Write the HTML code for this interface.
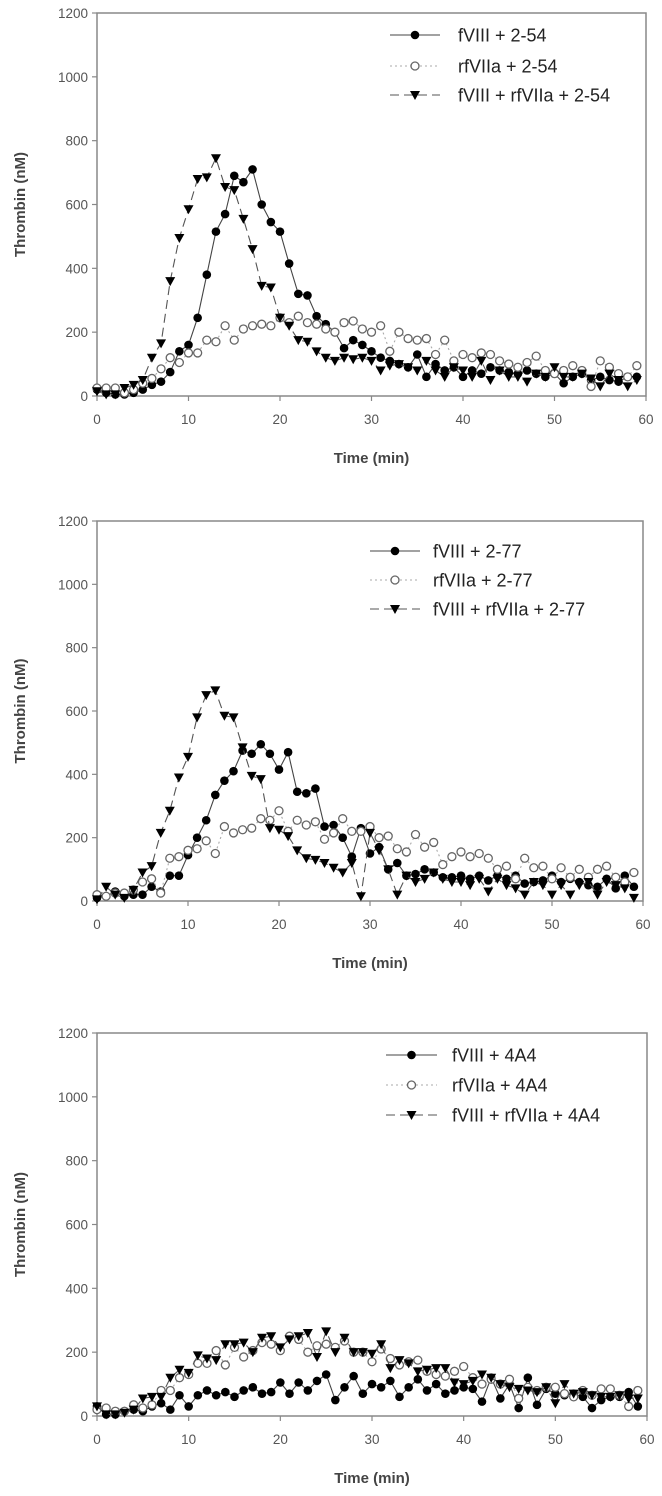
<!DOCTYPE html>
<html><head><meta charset="utf-8"><style>
html,body{margin:0;padding:0;background:#fff;}
svg{display:block;}
text{font-family:"Liberation Sans",Arial,sans-serif;}
</style></head><body>
<svg id="chart" width="662" height="1496" viewBox="0 0 662 1496" xmlns="http://www.w3.org/2000/svg"></svg>
<script>
const xTicks=[0,10,20,30,40,50,60];
const yTicks=[0,200,400,600,800,1000,1200];
const times=Array.from({length:60},(_,i)=>i);
const p1Labels=["fVIII + 2-54","rfVIIa + 2-54","fVIII + rfVIIa + 2-54"];
const p1FVIII=[20,10,5,5,10,20,35,45,75,140,160,245,380,515,570,690,670,710,600,545,515,415,320,315,250,225,200,150,175,160,140,120,110,100,90,130,60,100,80,90,60,80,70,90,80,75,70,80,70,60,70,40,60,70,50,60,50,45,60,60];
const p1RF=[25,25,25,10,20,40,55,85,120,105,135,135,175,170,220,175,210,220,225,220,245,230,250,230,225,210,200,230,235,210,200,220,140,200,180,175,180,130,175,110,130,120,135,130,110,100,90,105,125,80,70,80,95,80,30,110,90,70,60,95];
const p1Comb=[15,5,5,25,35,50,120,165,360,495,585,680,685,745,655,645,555,460,345,340,245,220,175,170,140,120,110,120,115,120,110,80,95,100,90,80,110,80,60,90,80,60,110,50,80,60,60,45,70,60,90,60,60,70,55,30,70,50,30,50];
const p2Labels=["fVIII + 2-77","rfVIIa + 2-77","fVIII + rfVIIa + 2-77"];
const p2FVIII=[10,15,30,15,20,20,45,30,80,80,145,200,255,335,380,410,475,465,495,465,415,470,345,340,355,235,240,200,140,230,150,170,100,120,80,85,100,90,75,75,80,70,80,65,80,70,80,55,60,65,80,60,70,60,50,45,70,40,80,45];
const p2RF=[20,15,25,25,35,60,70,25,135,140,160,165,190,150,235,215,225,230,260,255,285,220,255,240,250,195,215,260,220,220,235,200,205,165,155,210,170,185,115,140,155,140,150,135,100,110,70,135,105,110,70,105,75,100,75,100,110,75,60,90];
const p2Comb=[5,45,20,10,35,90,110,215,285,390,455,580,650,665,585,580,485,395,385,230,225,205,160,135,130,120,105,90,120,15,215,160,100,20,80,60,70,90,70,60,60,50,70,30,70,50,40,20,60,50,20,50,20,50,60,20,60,50,40,10];
const p3Labels=["fVIII + 4A4","rfVIIa + 4A4","fVIII + rfVIIa + 4A4"];
const p3FVIII=[30,5,5,15,20,15,30,40,20,65,30,65,80,65,75,60,80,90,70,75,105,70,105,80,110,130,50,90,125,70,100,90,110,60,90,115,80,100,70,80,90,85,45,120,55,100,25,120,35,85,70,65,70,60,25,50,60,60,75,30];
const p3RF=[20,25,15,15,35,25,35,80,80,120,130,165,165,205,160,215,185,205,230,225,205,250,240,200,220,225,215,235,200,200,170,210,180,160,170,175,140,130,125,140,155,120,100,115,100,115,55,90,80,90,90,70,60,80,65,85,85,65,30,80];
const p3Comb=[30,5,5,10,20,55,60,60,120,145,135,190,180,175,225,225,230,200,245,250,215,240,250,260,185,265,200,245,200,200,195,225,150,175,165,140,145,150,150,105,100,110,130,120,100,90,85,80,75,90,40,100,70,75,65,60,60,65,55,55];

const NS="http://www.w3.org/2000/svg";
const svg=document.getElementById('chart');
function mk(tag,attrs,parent){const e=document.createElementNS(NS,tag);for(const k in attrs)e.setAttribute(k,attrs[k]);(parent||svg).appendChild(e);return e;}

const panels=[
 {top:13,bot:396,left:97,right:646,leg:{x1:390,x2:440,tx:458,ys:[35,66,95]},labels:p1Labels,series:[p1FVIII,p1RF,p1Comb],name:'panel-2-54'},
 {top:521,bot:901,left:97,right:643,leg:{x1:370,x2:420,tx:433,ys:[551,580,609]},labels:p2Labels,series:[p2FVIII,p2RF,p2Comb],name:'panel-2-77'},
 {top:1033,bot:1416,left:97,right:647,leg:{x1:386,x2:437,tx:452,ys:[1055,1085,1115]},labels:p3Labels,series:[p3FVIII,p3RF,p3Comb],name:'panel-4a4'}
];
const styles=[
 {stroke:'#444',dash:'',marker:'dot'},
 {stroke:'#aaa',dash:'2,3',marker:'circle'},
 {stroke:'#555',dash:'9,5',marker:'tri'}
];
function marker(kind,x,y,g){
 let e;
 if(kind==='dot'){e=mk('circle',{cx:x,cy:y,r:4.3,fill:'#000'},g);}
 else if(kind==='circle'){e=mk('circle',{cx:x,cy:y,r:4,fill:'#fff',stroke:'#666','stroke-width':1.3},g);}
 else {e=mk('polygon',{points:`${x-5},${y-4} ${x+5},${y-4} ${x},${y+5}`,fill:'#000'},g);}
 return e;
}
panels.forEach((p,pi)=>{
 const g=mk('g',{});
 
 
 const xs=v=>p.left+(v/60)*(p.right-p.left);
 const ys=v=>p.bot-(v/1200)*(p.bot-p.top);
 const frame=mk('rect',{x:p.left,y:p.top,width:p.right-p.left,height:p.bot-p.top,fill:'none',stroke:'#888','stroke-width':1.5},g);
 
 
 yTicks.forEach(t=>{
  mk('line',{x1:p.left-5,x2:p.left,y1:ys(t),y2:ys(t),stroke:'#888','stroke-width':1.2},g);
  const tx=mk('text',{x:p.left-9,y:ys(t)+5,'text-anchor':'end','font-size':13.5,fill:'#555'},g);
  tx.textContent=t;
  
  
 });
 xTicks.forEach(t=>{
  mk('line',{x1:xs(t),x2:xs(t),y1:p.bot,y2:p.bot+5,stroke:'#888','stroke-width':1.2},g);
  const tx=mk('text',{x:xs(t),y:p.bot+28,'text-anchor':'middle','font-size':13.5,fill:'#555'},g);
  tx.textContent=t;
  
  
 });
 const yt=mk('text',{x:0,y:0,transform:`translate(25,${(p.top+p.bot)/2}) rotate(-90)`,'text-anchor':'middle','font-size':15,'font-weight':'bold',fill:'#444'},g);
 yt.textContent='Thrombin (nM)';
 
 
 const xt=mk('text',{x:(p.left+p.right)/2,y:p.bot+67,'text-anchor':'middle','font-size':15,'font-weight':'bold',fill:'#444'},g);
 xt.textContent='Time (min)';
 
 
 p.series.forEach((vals,si)=>{
  const st=styles[si];
  const sg=mk('g',{},g);
  
  
  const pts=vals.map((v,i)=>xs(times[i]).toFixed(1)+','+ys(v).toFixed(1)).join(' ');
  const pl=mk('polyline',{points:pts,fill:'none',stroke:st.stroke,'stroke-width':1.1,'stroke-dasharray':st.dash},sg);
  
  
  vals.forEach((v,i)=>{
   const m=marker(st.marker,xs(times[i]),ys(v),sg);
   
   
  });
 });
 const lg=mk('g',{},g);
 
 
 p.labels.forEach((lab,li)=>{
  const st=styles[li];const y=p.leg.ys[li];
  const eg=mk('g',{},lg);
  
  
  mk('line',{x1:p.leg.x1,x2:p.leg.x2,y1:y,y2:y,stroke:st.stroke,'stroke-width':1.1,'stroke-dasharray':st.dash},eg);
  marker(st.marker,(p.leg.x1+p.leg.x2)/2,y,eg);
  const t=mk('text',{x:p.leg.tx,y:y+6.5,'font-size':18,fill:'#222'},eg);
  t.textContent=lab;
  
  
 });
});
</script>
</body></html>
